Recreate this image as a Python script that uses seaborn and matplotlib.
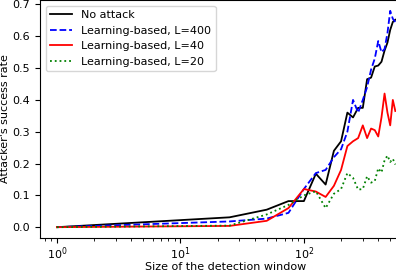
import matplotlib
matplotlib.use("Agg")
import matplotlib.pyplot as plt
import pandas as pd
import seaborn as sns

# Tamanho da janela de detecção (eixo x, escala log)
janela = [1, 25, 50, 75, 100, 125, 150, 175, 200, 225, 250, 275, 300,
          325, 350, 375, 400, 425, 450, 475, 500, 525, 550]

sem_ataque = [0.0, 0.031, 0.055, 0.082, 0.082, 0.168, 0.134, 0.24, 0.27, 0.36,
              0.345, 0.375, 0.375, 0.465, 0.47, 0.505, 0.508, 0.52, 0.555,
              0.58, 0.62, 0.645, 0.652]
l400 = [0.0, 0.018, 0.027, 0.045, 0.12, 0.17, 0.18, 0.22, 0.245, 0.30, 0.40,
        0.36, 0.40, 0.44, 0.495, 0.53, 0.585, 0.55, 0.56, 0.61, 0.68, 0.655,
        0.645]
l40 = [0.0, 0.004, 0.02, 0.06, 0.12, 0.112, 0.095, 0.13, 0.18, 0.255, 0.27,
       0.28, 0.32, 0.28, 0.31, 0.305, 0.285, 0.345, 0.42, 0.36, 0.32, 0.40,
       0.365]
l20 = [0.0, 0.005, 0.04, 0.07, 0.10, 0.113, 0.06, 0.105, 0.12, 0.17, 0.155,
       0.118, 0.12, 0.16, 0.14, 0.145, 0.185, 0.172, 0.21, 0.225, 0.205,
       0.215, 0.197]

rotulos = ["No attack", "Learning-based, L=400", "Learning-based, L=40",
           "Learning-based, L=20"]
series = [sem_ataque, l400, l40, l20]
cores = ["black", "blue", "red", "green"]
estilos = ["-", "--", "-", ":"]

plt.rcParams["font.size"] = 8

fig = plt.figure(figsize=(3.96, 2.72), dpi=100)
ax = fig.add_axes([0.101, 0.125, 0.940, 0.875])

for rotulo, valores, cor, estilo in zip(rotulos, series, cores, estilos):
    df = pd.DataFrame({"janela": janela, "taxa": valores})
    sns.lineplot(data=df, x="janela", y="taxa", ax=ax, color=cor,
                 linestyle=estilo, linewidth=1.3, label=rotulo)

ax.set_xscale("log")
ax.tick_params(axis="x", which="major", pad=2)
ax.set_xlabel("Size of the detection window", labelpad=0)
ax.set_ylabel("Attacker's success rate", labelpad=1.5)
ax.legend(loc="upper left", fontsize=8)

fig.savefig("out.png", dpi=100)
